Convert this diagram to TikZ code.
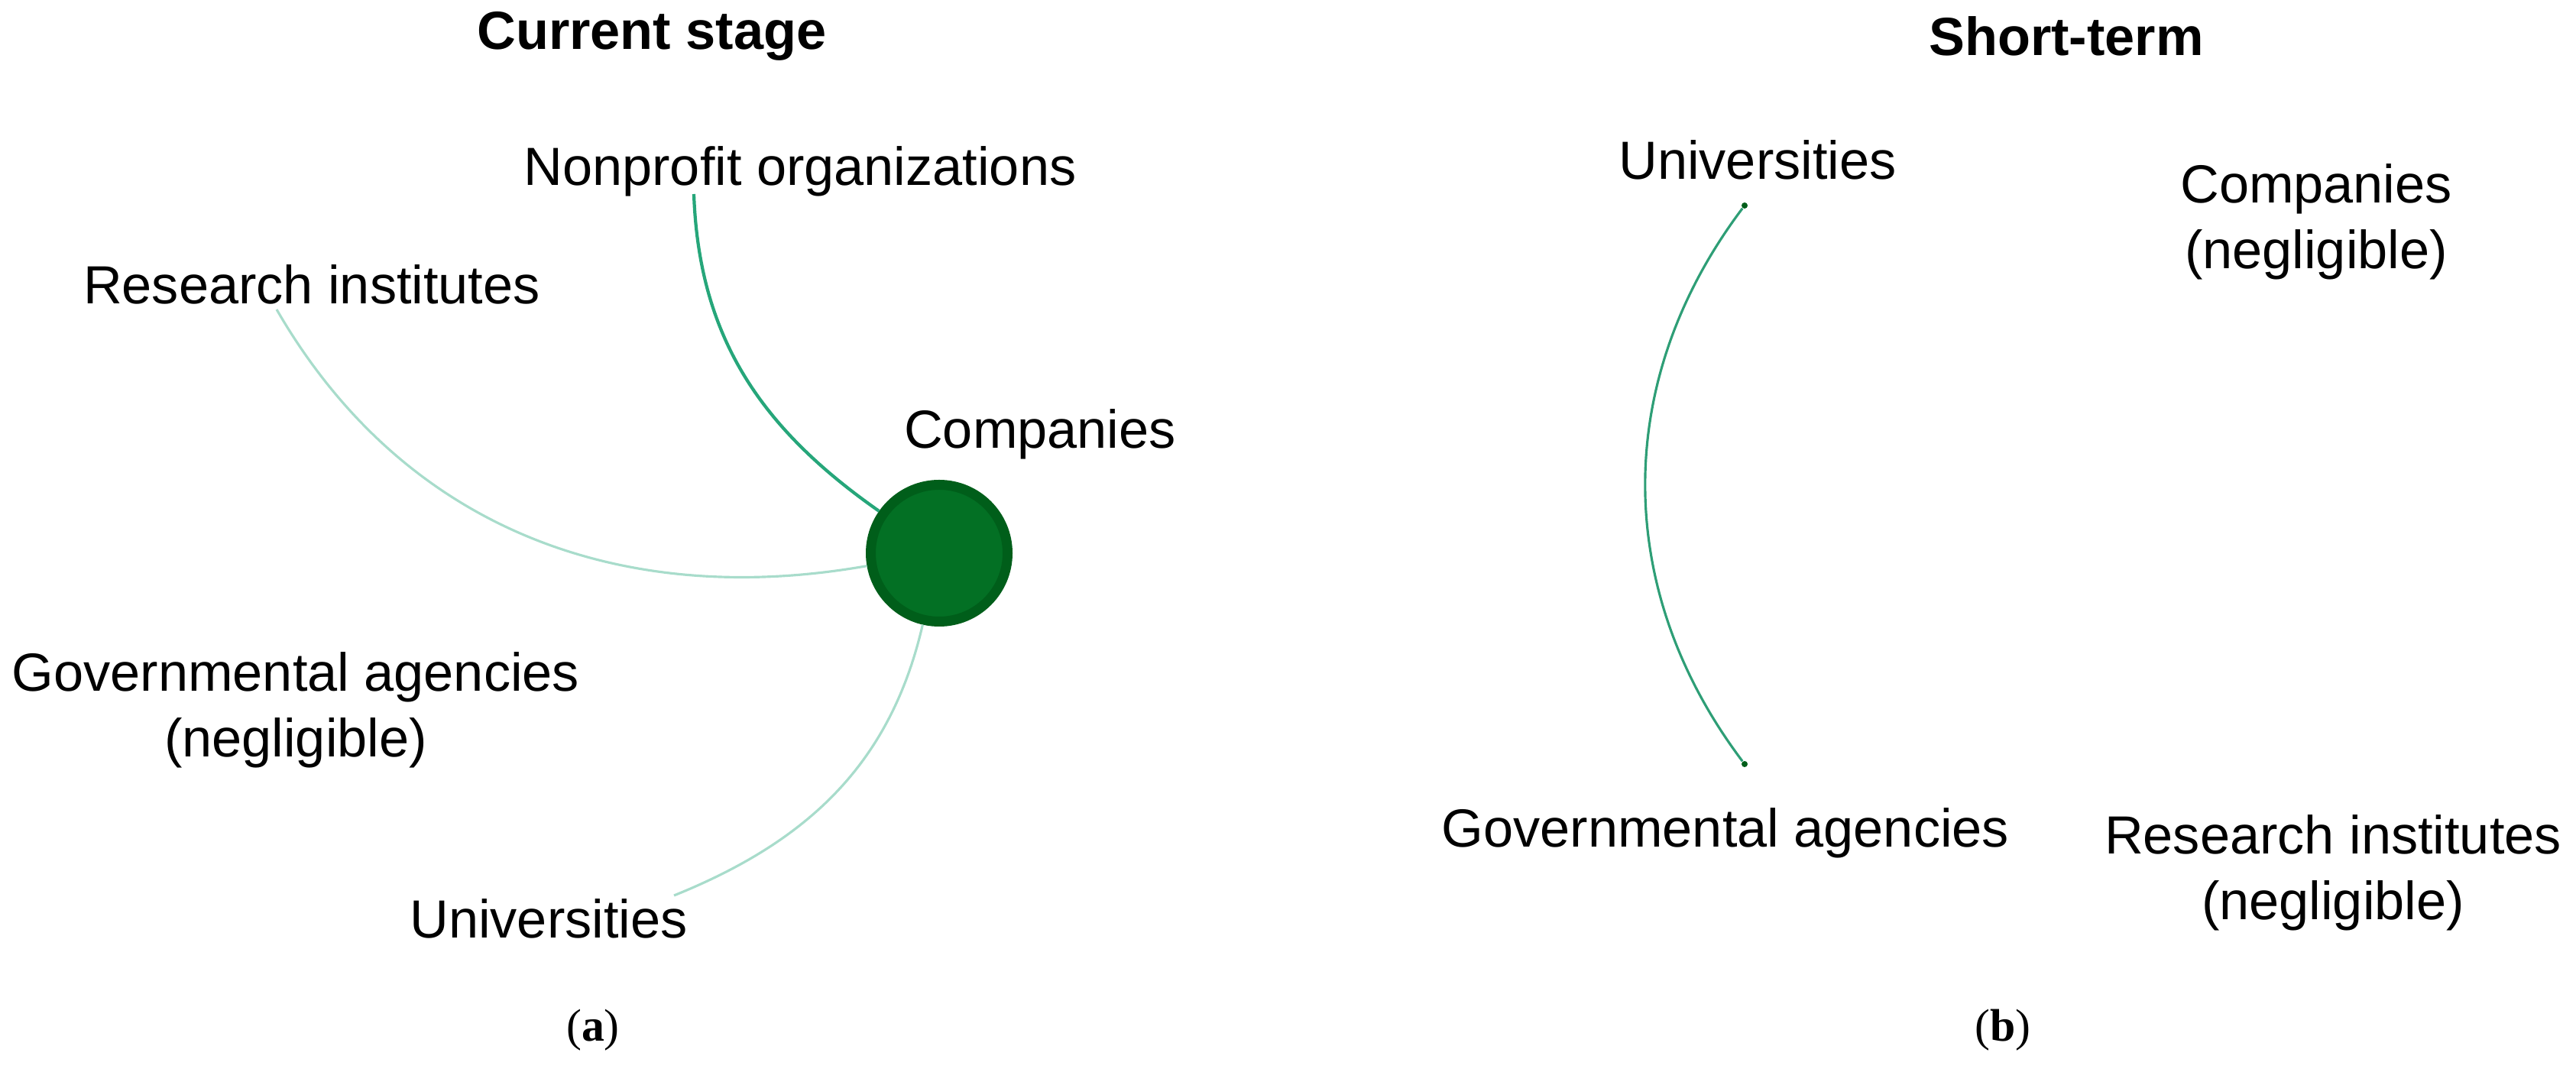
\documentclass[tikz,border=0pt]{standalone}
\usepackage{fontspec}
\setmainfont{Liberation Sans}
\newfontfamily\capfont{Liberation Serif}
\usepackage{tikz}
\usetikzlibrary{positioning}
\definecolor{nodegreen}{RGB}{3,112,36}
\definecolor{ringgreen}{RGB}{0,94,26}
\definecolor{strongedge}{RGB}{38,166,122}
\definecolor{weakedge}{RGB}{168,220,203}
\definecolor{midedge}{RGB}{46,158,118}

\begin{document}
\begin{tikzpicture}[
    lbl/.style={font=\fontsize{20}{24.5}\selectfont, inner sep=0pt, align=center},
    ttl/.style={font=\fontsize{20}{24}\selectfont\bfseries, inner sep=0pt},
    sub/.style={font=\capfont\fontsize{17}{20}\selectfont, inner sep=0pt},
    hub/.style={circle, fill=nodegreen, draw=ringgreen, line width=3.7pt, minimum size=1.79cm, inner sep=0pt},
    dot/.style={circle, fill=ringgreen, minimum size=0.08cm, inner sep=0pt},
    weak/.style={weakedge, line width=0.9pt},
]
\useasboundingbox (0,0) rectangle (33.71,14.03);

% (a) current stage
\node[ttl] (cur) at (8.53,13.56) {Current stage};
\node[lbl] (nonprofit) at (10.47,11.79) {Nonprofit organizations};
\node[lbl] (research) at (4.08,10.31) {Research institutes};
\node[lbl] (comp) at (13.61,8.35) {Companies};
\node[lbl] (gov) at (3.87,4.74) {Governmental agencies\\(negligible)};
\node[lbl] (univ) at (7.18,2.01) {Universities};
\node[hub] (hub) at (12.29,6.79) {};
\coordinate (npend) at (9.08,11.49);
\coordinate (resend) at (3.62,9.98);
\coordinate (uniend) at (8.82,2.31);
\draw[strongedge, line width=1.2pt] (npend) to[out=-88, in=145] (hub);
\draw[weak] (resend) to[out=-60, in=190] (hub);
\draw[weak] (hub) to[out=-103, in=22] (uniend);
\node[sub] (capa) at (7.76,0.55) {(\textbf{a})};

% (b) short-term
\node[ttl] (short) at (27.04,13.56) {Short-term};
\node[lbl] (univ2) at (23.00,11.94) {Universities};
\node[lbl] (comp2) at (30.31,11.13) {Companies\\(negligible)};
\node[lbl] (gov2) at (22.58,3.13) {Governmental agencies};
\node[lbl] (res2) at (30.53,2.61) {Research institutes\\(negligible)};
\node[dot] (udot) at (22.83,11.34) {};
\node[dot] (gdot) at (22.83,4.03) {};
\draw[midedge, line width=0.9pt] (udot) to[bend right=37] (gdot);
\node[sub] (capb) at (26.21,0.55) {(\textbf{b})};
\end{tikzpicture}
\end{document}
